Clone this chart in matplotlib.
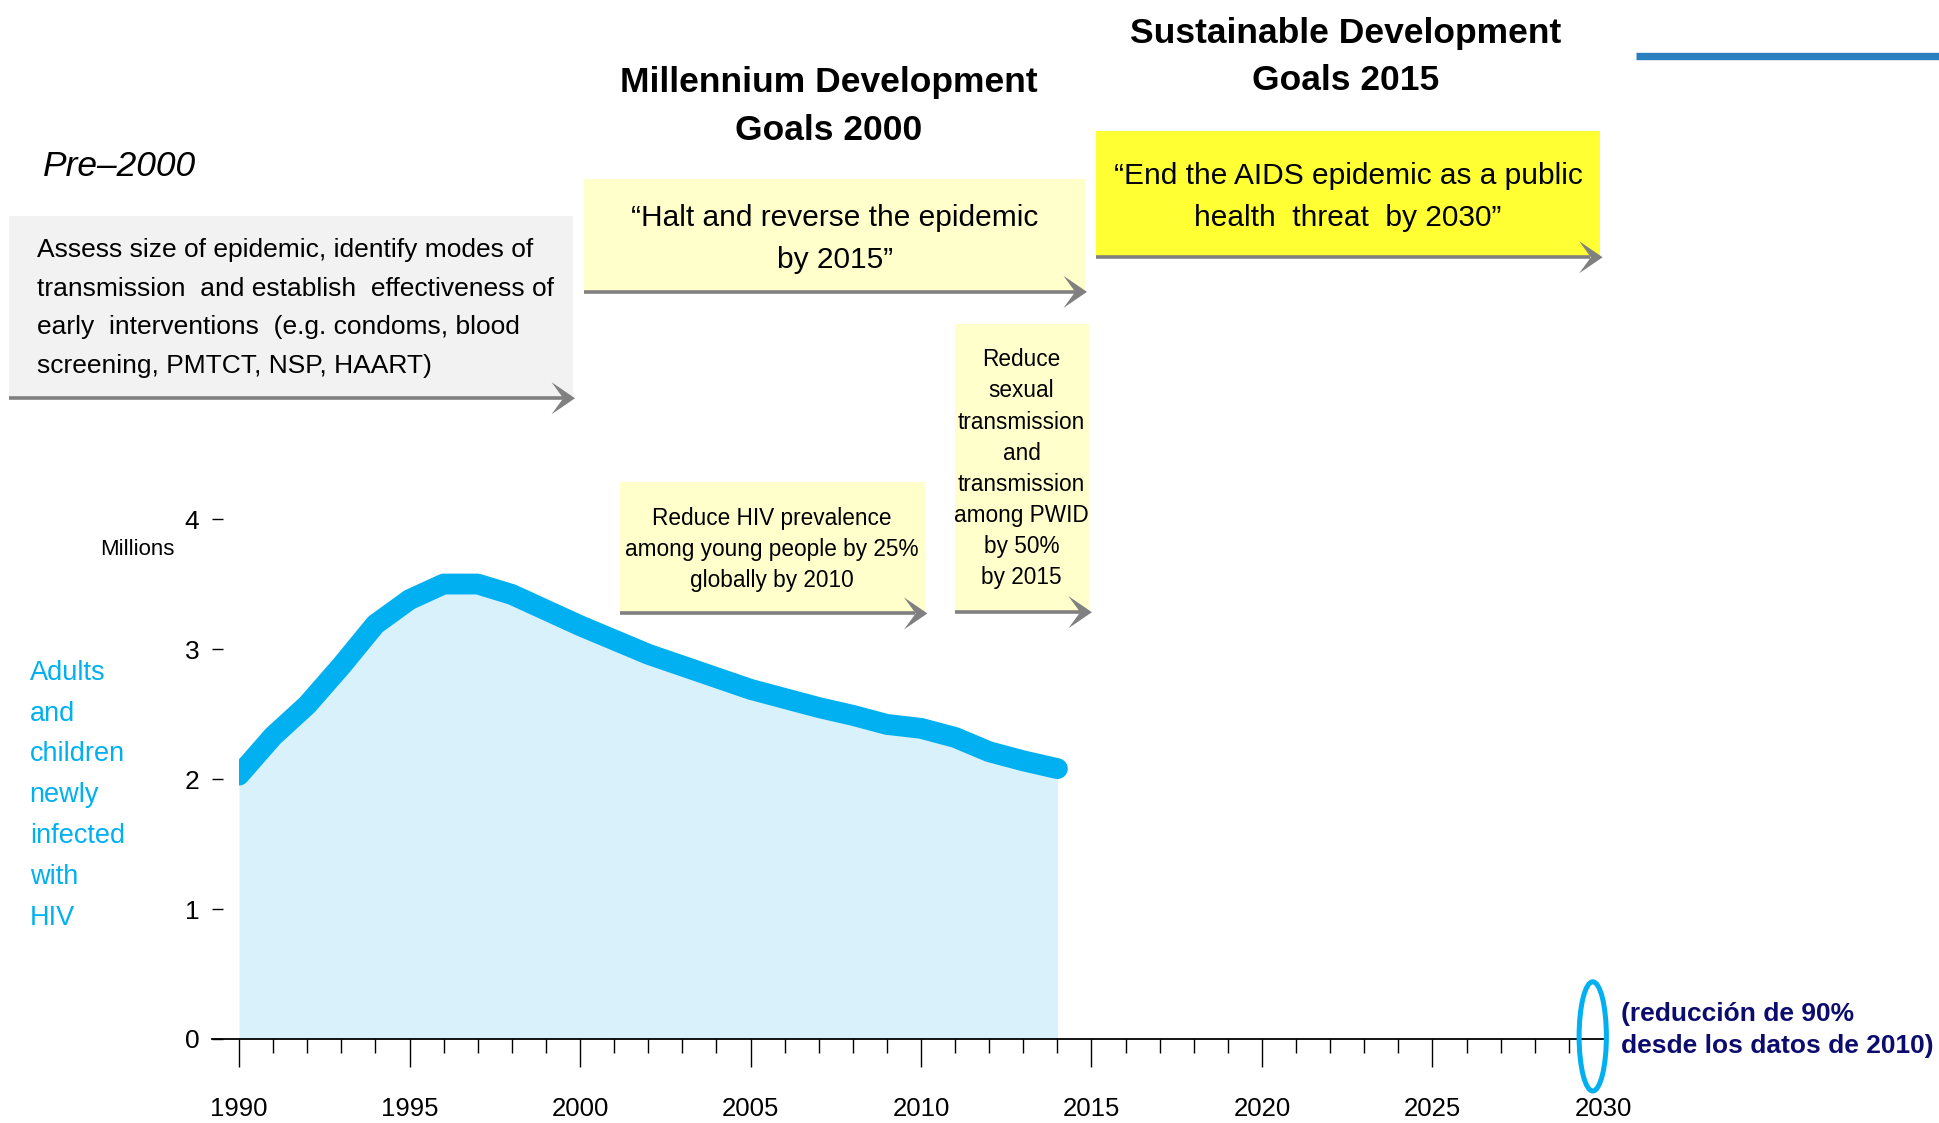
import matplotlib
matplotlib.use("Agg")
import matplotlib.pyplot as plt
from matplotlib.patches import Rectangle, Polygon, Ellipse

# new HIV infections, adults and children (millions)
years = list(range(1990, 2015))
new_infections = [2.03, 2.33, 2.57, 2.87, 3.19, 3.38, 3.50, 3.50, 3.42, 3.30,
                  3.18, 3.07, 2.96, 2.87, 2.78, 2.69, 2.62, 2.55, 2.49, 2.42,
                  2.39, 2.32, 2.21, 2.14, 2.08]
y_ticks = [0, 1, 2, 3, 4]
major_years = list(range(1990, 2031, 5))
minor_years = list(range(1990, 2030))
target_year = 2030

plt.rcParams['font.family'] = ['Liberation Sans', 'DejaVu Sans']

BLUE = '#00b0f0'
ARROW = '#808080'

fig = plt.figure(figsize=(19.39, 11.23), dpi=100)

# overlay in the 1568x908 picture coordinates for the timeline boxes
ov = fig.add_axes([0, 0, 1, 1], zorder=0)
ov.set_xlim(0, 1568)
ov.set_ylim(908, 0)
ov.axis('off')


def box(x0, x1, y0, y1, color):
    ov.add_patch(Rectangle((x0, y0), x1 - x0, y1 - y0, facecolor=color, edgecolor='none'))
    ov.plot([x0, x1 - 8], [y1, y1], color=ARROW, lw=2.6, solid_capstyle='butt')
    L, H = 19, 26
    tip = x1 + 2
    ov.add_patch(Polygon([(tip, y1), (tip - L, y1 - H / 2), (tip - L * 0.5, y1),
                          (tip - L, y1 + H / 2)], closed=True, facecolor=ARROW, edgecolor='none'))


box(7, 463, 175, 322, '#f2f2f2')
box(472, 877, 145, 236, '#ffffcc')
box(886, 1294, 106, 208, '#ffff33')
box(501, 748, 390, 496, '#ffffcc')
box(772, 881, 262, 495, '#ffffcc')

ov.plot([1323, 1568], [45, 45], color='#2a7fc0', lw=5.3, solid_capstyle='butt')

ov.text(35, 135, 'Pre\u20132000', fontsize=25.5, style='italic', ha='left', va='center')
ov.text(30, 249, 'Assess size of epidemic, identify modes of\n'
                 'transmission  and establish  effectiveness of\n'
                 'early  interventions  (e.g. condoms, blood\n'
                 'screening, PMTCT, NSP, HAART)',
        fontsize=19, ha='left', va='center', linespacing=1.77)
ov.text(670, 86, 'Millennium Development\nGoals 2000', fontsize=25.5, fontweight='bold',
        ha='center', va='center', linespacing=1.55)
ov.text(1088, 46, 'Sustainable Development\nGoals 2015', fontsize=25.5, fontweight='bold',
        ha='center', va='center', linespacing=1.55)
ov.text(675, 193, '\u201cHalt and reverse the epidemic\nby 2015\u201d', fontsize=21.5,
        ha='center', va='center', linespacing=1.62)
ov.text(1090, 159, '\u201cEnd the AIDS epidemic as a public\nhealth  threat  by 2030\u201d', fontsize=21.5,
        ha='center', va='center', linespacing=1.64)
ov.text(624, 444, 'Reduce HIV prevalence\namong young people by 25%\nglobally by 2010', fontsize=16.3,
        ha='center', va='center', linespacing=1.45)
ov.text(826, 379, 'Reduce\nsexual\ntransmission\nand\ntransmission\namong PWID\nby 50%\nby 2015',
        fontsize=16.3, ha='center', va='center', linespacing=1.45)
ov.text(24, 643, 'Adults\nand\nchildren\nnewly\ninfected\nwith\nHIV', fontsize=19.5, color=BLUE,
        ha='left', va='center', linespacing=1.74)
ov.text(111, 444, 'Millions', fontsize=16, ha='center', va='center')
ov.text(1311, 833, '(reducci\u00f3n de 90%\ndesde los datos de 2010)', fontsize=19,
        fontweight='bold', color='#0c0c6e', ha='left', va='center', linespacing=1.44)

# chart
ax = fig.add_axes([0.1092, 0.0748, 0.7175, 0.463], zorder=1)
ax.patch.set_visible(False)
ax.fill_between(years, 0, new_infections, color='#d8f1fb', lw=0)
line, = ax.plot(years, new_infections, color=BLUE, lw=15, solid_capstyle='round',
                solid_joinstyle='round')
line.set_clip_path(Rectangle((years[0], -1), 60, 10, transform=ax.transData))

ax.add_patch(Ellipse((target_year - 0.3, 0.02), 0.8, 0.84, fill=False, edgecolor=BLUE,
                     lw=3.6, clip_on=False, zorder=5))

ax.set_xlim(1989.2, target_year)
ax.set_ylim(0, 4)
for s in ['top', 'right', 'left']:
    ax.spines[s].set_visible(False)
ax.spines['bottom'].set_linewidth(1.3)

ax.set_xticks(major_years)
ax.set_xticks(minor_years, minor=True)
ax.set_xticklabels([str(y) for y in major_years])
ax.tick_params(axis='x', which='major', direction='out', length=20, width=1, labelsize=18.5, pad=22)
ax.tick_params(axis='x', which='minor', direction='out', length=10, width=1)
ax.xaxis.get_major_ticks()[-1].tick1line.set_visible(False)

ax.set_yticks(y_ticks)
ax.set_yticklabels([str(v) for v in y_ticks])
ax.tick_params(axis='y', direction='in', length=8, width=1, labelsize=19, pad=9)

fig.savefig('out.png', dpi=100)
